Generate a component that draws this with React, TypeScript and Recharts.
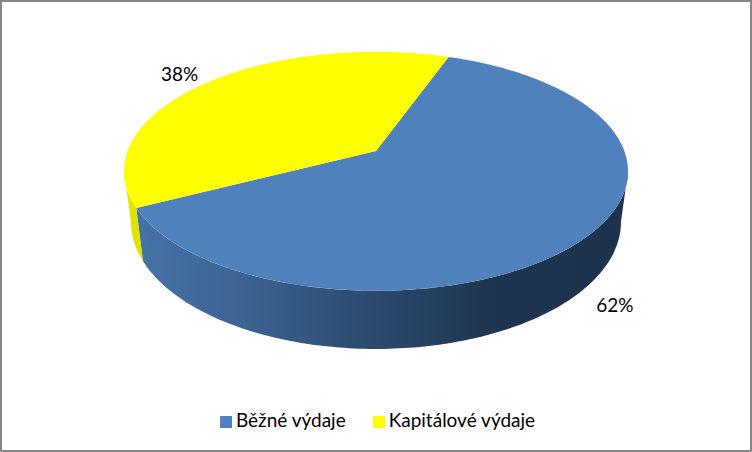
import { PieChart, Pie, Legend } from 'recharts';

const categories = ['Běžné výdaje', 'Kapitálové výdaje'];
const shares = [62, 38];
const colors = ['#4F81BD', '#FFFF00'];
const wallColors = ['url(#blueWall)', '#E2E200'];

const data = categories.map((name, i) => ({ name, value: shares[i], fill: colors[i] }));

const FONT = 'Lato, Carlito, sans-serif';
const TILT = 0.17;
const topDisc = { half: 248.3, depth: 116, dy: 0 };
const bottomDisc = { half: 241.4, depth: 123.3, dy: 49.4 };
const labelOffset = [
  { dx: 29, dy: 67 },
  { dx: -29, dy: -9 },
];

// recharts angle -> point on the tilted disc
function project(cx: number, cy: number, disc: typeof topDisc, angle: number) {
  const rad = ((90 - angle) * Math.PI) / 180;
  const u = Math.sin(rad);
  const v = Math.cos(rad);
  const d = 1 + TILT * v;
  return { x: cx + (disc.half * u) / d, y: cy + disc.dy - (disc.depth * v) / d };
}

function arcPoints(cx: number, cy: number, disc: typeof topDisc, from: number, to: number) {
  const steps = Math.max(2, Math.ceil(Math.abs(to - from)));
  const pts = [];
  for (let i = 0; i <= steps; i++) {
    pts.push(project(cx, cy, disc, from + ((to - from) * i) / steps));
  }
  return pts;
}

const toPath = (pts: { x: number; y: number }[]) =>
  pts.map((p, i) => `${i ? 'L' : 'M'}${p.x.toFixed(2)} ${p.y.toFixed(2)}`).join(' ') + ' Z';

// rim is only visible on the front part of the disc
const FRONT_RIGHT = -9.8;
const FRONT_LEFT = -170.2;

function DiscSlice(props: any) {
  const { cx, cy, startAngle, endAngle, fill, index } = props;
  const top = arcPoints(cx, cy, topDisc, startAngle, endAngle);
  const wallFrom = Math.min(startAngle, FRONT_RIGHT);
  const wallTo = Math.max(endAngle, FRONT_LEFT);
  const hasWall = wallFrom > wallTo;
  return (
    <g>
      {hasWall && (
        <path
          d={toPath([
            ...arcPoints(cx, cy, topDisc, wallFrom, wallTo),
            ...arcPoints(cx, cy, bottomDisc, wallTo, wallFrom),
          ])}
          fill={wallColors[index]}
        />
      )}
      <path d={toPath([{ x: cx, y: cy }, ...top])} fill={fill} />
    </g>
  );
}

function renderLabel(props: any) {
  const { cx, cy, midAngle, value, index } = props;
  const p = project(cx, cy, topDisc, midAngle);
  return (
    <text
      x={p.x + labelOffset[index].dx}
      y={p.y + labelOffset[index].dy}
      fill="#000"
      fontSize={19}
      fontFamily={FONT}
      textAnchor="middle"
      dominantBaseline="central"
    >
      {value}%
    </text>
  );
}

export default function App() {
  return (
    <div style={{ position: 'absolute', left: 0, top: 0, width: 752, height: 452, background: '#fff' }}>
      <PieChart width={752} height={452} margin={{ top: 0, right: 0, bottom: 0, left: 0 }}>
        <defs>
          <linearGradient id="blueWall" gradientUnits="userSpaceOnUse" x1="134" y1="0" x2="620" y2="0">
            <stop offset="0" stopColor="#4674A8" />
            <stop offset="0.2" stopColor="#3E6594" />
            <stop offset="0.48" stopColor="#2D4B70" />
            <stop offset="0.72" stopColor="#1F3650" />
            <stop offset="1" stopColor="#1D324C" />
          </linearGradient>
        </defs>
        <Pie
          data={data}
          dataKey="value"
          nameKey="name"
          cx={376}
          cy={151}
          outerRadius={100}
          startAngle={70.2}
          endAngle={-289.8}
          stroke="none"
          shape={DiscSlice}
          label={renderLabel}
          labelLine={false}
          isAnimationActive={false}
        />
        <Legend
          layout="horizontal"
          align="center"
          verticalAlign="bottom"
          iconType="square"
          iconSize={12}
          itemSorter={null}
          wrapperStyle={{ bottom: 21, left: 0, width: 752, paddingLeft: 30, boxSizing: 'border-box', fontFamily: FONT, fontSize: 19 }}
          formatter={(value: string) => <span style={{ color: '#000', marginRight: 17 }}>{value}</span>}
        />
      </PieChart>
      <div
        style={{
          position: 'absolute',
          inset: 0,
          border: '2px solid #868686',
          boxSizing: 'border-box',
          pointerEvents: 'none',
        }}
      />
    </div>
  );
}
